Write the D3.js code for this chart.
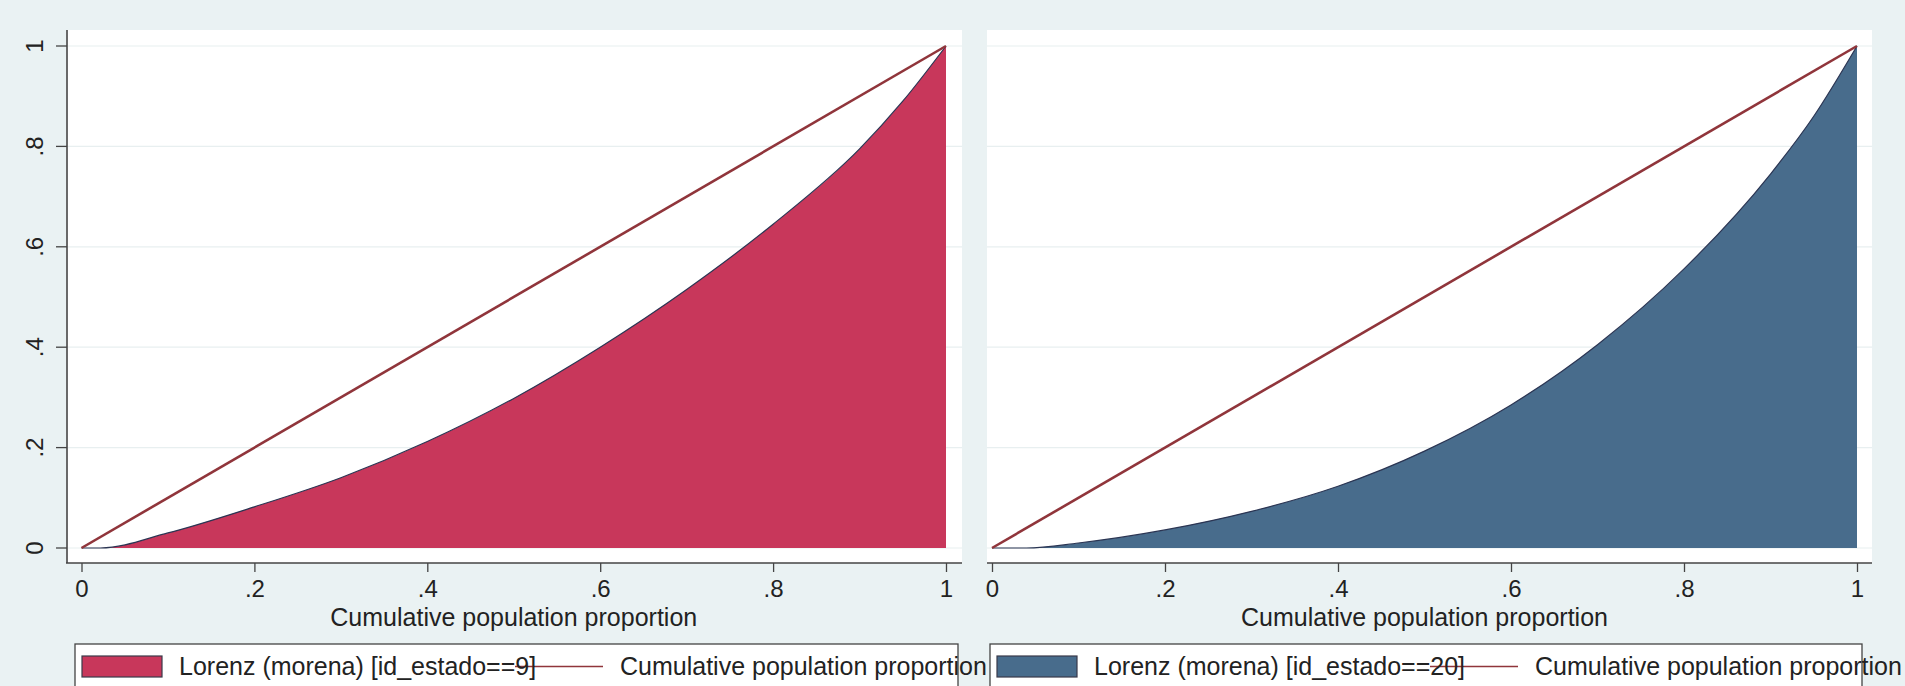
<!DOCTYPE html>
<html>
<head>
<meta charset="utf-8">
<script src="https://cdnjs.cloudflare.com/ajax/libs/d3/7.8.5/d3.min.js"></script>
<style>
  body { margin: 0; background: #eaf2f3; }
  svg { display: block; }
  text { font-family: "Liberation Sans", Arial, sans-serif; fill: #222; }
</style>
</head>
<body>
<script>
// data
const tickValues = [0, 0.2, 0.4, 0.6, 0.8, 1];
const tickLabels = ["0", ".2", ".4", ".6", ".8", "1"];

const lorenz9X = [0, 0.022, 0.1, 0.2, 0.3, 0.4, 0.5, 0.6, 0.7, 0.8, 0.9, 0.95, 1];
const lorenz9Y = [0, 0, 0.03, 0.082, 0.14, 0.212, 0.298, 0.4, 0.515, 0.645, 0.795, 0.89, 1];

const lorenz20X = [0, 0.04, 0.1, 0.2, 0.3, 0.4, 0.5, 0.6, 0.7, 0.8, 0.9, 0.95, 1];
const lorenz20Y = [0, 0, 0.01, 0.036, 0.073, 0.123, 0.193, 0.285, 0.405, 0.556, 0.745, 0.86, 1];

const equalityX = [0, 1];
const equalityY = [0, 1];

const legendLabels = ["Lorenz (morena) [id_estado==9]", "Lorenz (morena) [id_estado==20]"];
const lineLabel = "Cumulative population proportion";
const xTitle = "Cumulative population proportion";

const width = 1905, height = 686;
const yTop = 46, yBottom = 548, axisY = 563;

const svg = d3.select("body").append("svg")
    .attr("width", width)
    .attr("height", height);

const y = d3.scaleLinear().domain([0, 1]).range([yBottom, yTop]);

const panels = [
    {x0: 81.5, x1: 946, bgLeft: 66, bgRight: 962, yAxis: true,
     xs: lorenz9X, ys: lorenz9Y, fill: "#c8375b", label: legendLabels[0], boxLeft: 75, boxRight: 958},
    {x0: 992, x1: 1857, bgLeft: 987, bgRight: 1872, yAxis: false,
     xs: lorenz20X, ys: lorenz20Y, fill: "#486c8c", label: legendLabels[1], boxLeft: 990, boxRight: 1862}
];

panels.forEach(function (p) {
    const x = d3.scaleLinear().domain([0, 1]).range([p.x0, p.x1]);
    const g = svg.append("g");

    // plot region
    g.append("rect")
        .attr("x", p.bgLeft).attr("y", 30)
        .attr("width", p.bgRight - p.bgLeft).attr("height", axisY - 30)
        .attr("fill", "#fff");

    // horizontal grid
    g.selectAll(".grid").data(tickValues).enter().append("line")
        .attr("x1", p.bgLeft).attr("x2", p.bgRight)
        .attr("y1", d => y(d)).attr("y2", d => y(d))
        .attr("stroke", "#e8eff0").attr("stroke-width", 1.2);

    // lorenz area
    const pts = p.xs.map((v, i) => [v, p.ys[i]]);
    const area = d3.area()
        .x(d => x(d[0])).y0(y(0)).y1(d => y(d[1]))
        .curve(d3.curveMonotoneX);
    g.append("path")
        .attr("d", area(pts))
        .attr("fill", p.fill);
    g.append("path")
        .attr("d", d3.line().x(d => x(d[0])).y(d => y(d[1])).curve(d3.curveMonotoneX)(pts))
        .attr("fill", "none")
        .attr("stroke", "#2b3553").attr("stroke-width", 1.2);

    // line of equality
    g.append("path")
        .attr("d", d3.line().x(d => x(d[0])).y(d => y(d[1]))(equalityX.map((v, i) => [v, equalityY[i]])))
        .attr("fill", "none")
        .attr("stroke", "#90353b").attr("stroke-width", 2.6);

    // x axis
    const xAxis = d3.axisBottom(x)
        .tickValues(tickValues)
        .tickFormat((d, i) => tickLabels[i])
        .tickSize(9).tickSizeOuter(0).tickPadding(6);
    const xa = g.append("g")
        .attr("transform", "translate(0," + axisY + ")")
        .call(xAxis);
    xa.select(".domain").remove();
    xa.append("line")
        .attr("x1", p.bgLeft).attr("x2", p.bgRight)
        .attr("stroke", "#444").attr("stroke-width", 1.6);
    xa.selectAll(".tick line").attr("stroke", "#444").attr("stroke-width", 1.3);
    xa.selectAll(".tick text")
        .attr("y", 34).attr("dy", null)
        .style("font-size", "24px").style("font-family", "Liberation Sans, Arial, sans-serif")
        .attr("fill", "#222");

    g.append("text")
        .attr("x", (p.x0 + p.x1) / 2).attr("y", 626)
        .attr("text-anchor", "middle")
        .style("font-size", "25px")
        .text(xTitle);

    // y axis, left panel only
    if (p.yAxis) {
        g.append("line")
            .attr("x1", 67).attr("x2", 67).attr("y1", 30).attr("y2", axisY)
            .attr("stroke", "#444").attr("stroke-width", 1.6);
        g.selectAll(".ytick").data(tickValues).enter().append("line")
            .attr("x1", 56).attr("x2", 67)
            .attr("y1", d => y(d)).attr("y2", d => y(d))
            .attr("stroke", "#444").attr("stroke-width", 1.3);
        g.selectAll(".ylab").data(tickValues).enter().append("text")
            .attr("transform", d => "translate(43," + y(d) + ") rotate(-90)")
            .attr("text-anchor", "middle")
            .style("font-size", "24px")
            .text((d, i) => tickLabels[i]);
    }

    // legend
    const lg = g.append("g");
    lg.append("rect")
        .attr("x", p.boxLeft).attr("y", 644)
        .attr("width", p.boxRight - p.boxLeft).attr("height", 60)
        .attr("fill", "#fff").attr("stroke", "#444").attr("stroke-width", 1.3);
    lg.append("rect")
        .attr("x", p.boxLeft + 7).attr("y", 656)
        .attr("width", 80).attr("height", 21)
        .attr("fill", p.fill).attr("stroke", "#3a3a4a").attr("stroke-width", 1.2);
    lg.append("line")
        .attr("x1", p.boxLeft + 440).attr("x2", p.boxLeft + 528)
        .attr("y1", 666.5).attr("y2", 666.5)
        .attr("stroke", "#90353b").attr("stroke-width", 1.6);
    lg.append("text")
        .attr("x", p.boxLeft + 104).attr("y", 675)
        .style("font-size", "25px")
        .text(p.label);
    lg.append("text")
        .attr("x", p.boxLeft + 545).attr("y", 675)
        .style("font-size", "25px")
        .text(lineLabel);
});
</script>
</body>
</html>
